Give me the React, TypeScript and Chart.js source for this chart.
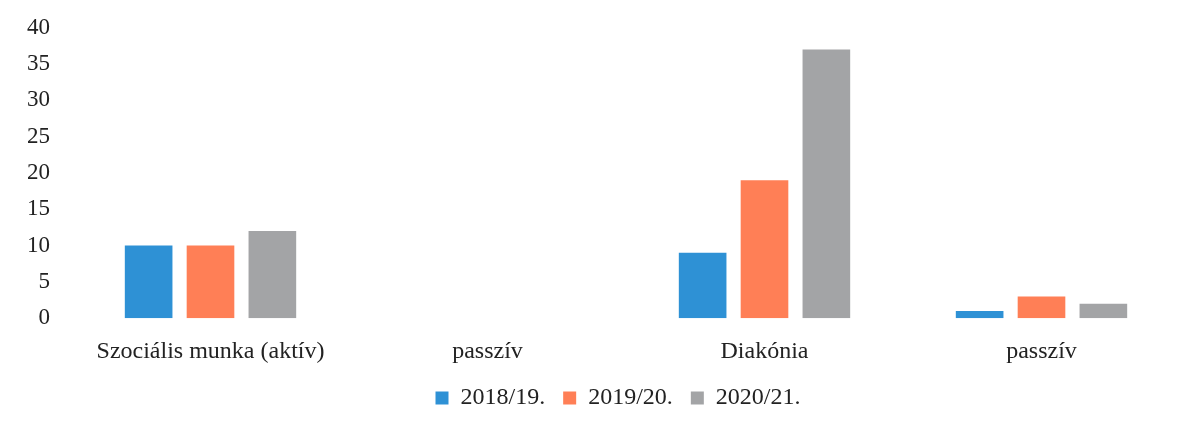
import React, { useEffect, useRef } from "react";
import { Chart, registerables } from "chart.js";

Chart.register(...registerables);

const categories = ["Szociális munka (aktív)", "passzív", "Diakónia", "passzív"];
const series1819 = [10, 0, 9, 1];
const series1920 = [10, 0, 19, 3];
const series2021 = [12, 0, 37, 2];
const seriesLabels = ["2018/19.", "2019/20.", "2020/21."];
const seriesColors = ["#2E91D5", "#FF7F56", "#A3A4A6"];

const FONT = "'Liberation Serif', 'Times New Roman', serif";

const legendShift = {
  id: "legendShift",
  afterLayout(chart: any) {
    const l = chart.legend;
    if (!l) return;
    l.left += 28;
    l.right += 28;
    l.top -= 9;
    l.bottom -= 9;
  },
};

export default function App() {
  const ref = useRef<HTMLCanvasElement | null>(null);
  useEffect(() => {
    if (!ref.current) return;
    const chart = new Chart(ref.current, {
      type: "bar",
      data: {
        labels: categories,
        datasets: [series1819, series1920, series2021].map((d, i) => ({
          label: seriesLabels[i],
          data: d,
          backgroundColor: seriesColors[i],
          borderWidth: 0,
          categoryPercentage: 0.67,
          barPercentage: 0.77,
        })),
      },
      options: {
        animation: false,
        responsive: false,
        maintainAspectRatio: false,
        layout: { padding: { top: 5, right: 20, bottom: 6, left: 0 } },
        plugins: {
          tooltip: { enabled: false },
          legend: {
            position: "bottom",
            maxHeight: 45,
            labels: {
              font: { family: FONT, size: 24 },
              color: "#222",
              boxWidth: 13,
              boxHeight: 13,
              padding: 18,
            },
          },
        },
        scales: {
          x: {
            grid: { display: false },
            border: { display: false },
            ticks: {
              font: { family: FONT, size: 24 },
              color: "#222",
              padding: 11,
              maxRotation: 0,
            },
          },
          y: {
            min: 0,
            max: 40,
            grid: { display: false },
            border: { display: false },
            ticks: {
              stepSize: 5,
              font: { family: FONT, size: 23 },
              color: "#222",
              padding: 14,
            },
            afterFit: (s: any) => {
              s.width = 72;
            },
          },
        },
      },
      plugins: [legendShift],
    });
    return () => chart.destroy();
  }, []);
  return (
    <div style={{ position: "fixed", left: 0, top: 0, width: 1200, height: 428, background: "#fff" }}>
      <canvas ref={ref} width={1200} height={428} style={{ display: "block" }} />
    </div>
  );
}
